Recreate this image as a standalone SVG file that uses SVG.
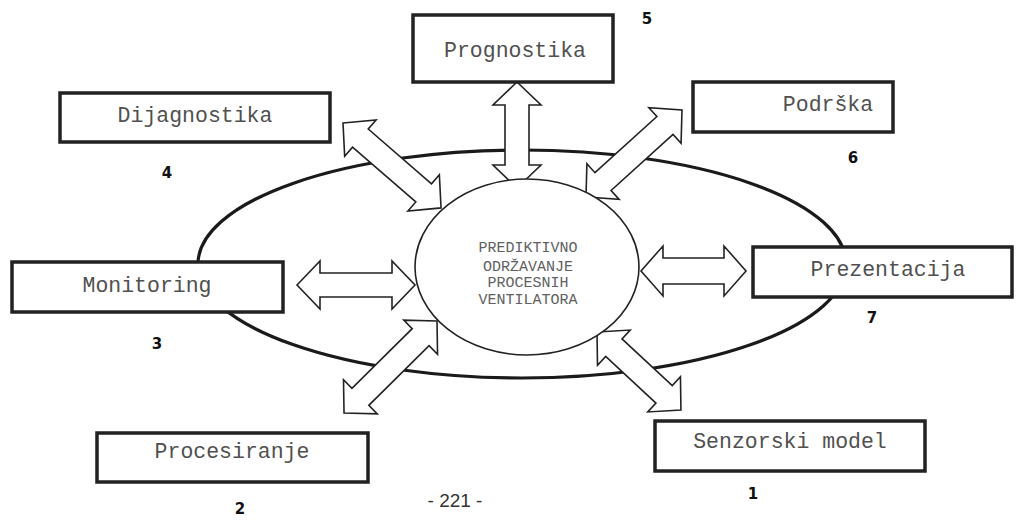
<svg xmlns="http://www.w3.org/2000/svg" width="1019" height="520" viewBox="0 0 1019 520">
<style>
.box{fill:#fff;stroke:#222;stroke-width:3.5}
.lbl{font-family:"Liberation Mono",monospace;font-size:21.5px;fill:#505050;text-anchor:middle}
.num{font-family:"DejaVu Sans",sans-serif;font-weight:bold;font-size:15px;fill:#111;text-anchor:middle}
.arr{fill:#fff;stroke:#222;stroke-width:1.6;stroke-linejoin:miter}
.ctr{font-family:"Liberation Mono",monospace;font-size:15px;fill:#606060;text-anchor:middle}
</style>
<rect width="1019" height="520" fill="#fff"/>
<g id="ring">
<ellipse cx="522" cy="264" rx="324" ry="114" fill="none" stroke="#1a1a1a" stroke-width="3.2"/>
</g>
<g id="connectors">
<polygon class="arr" transform="translate(517,82) rotate(90)" points="0,0 23,-24 23,-12 83,-12 83,-24 106,0 83,24 83,12 23,12 23,24"/>
<polygon class="arr" transform="translate(343,123) rotate(40.9)" points="0,0 23,-24 23,-12 106.7,-12 106.7,-24 129.7,0 106.7,24 106.7,12 23,12 23,24"/>
<polygon class="arr" transform="translate(682,110) rotate(137.8)" points="0,0 23,-24 23,-12 106.6,-12 106.6,-24 129.6,0 106.6,24 106.6,12 23,12 23,24"/>
<polygon class="arr" transform="translate(297,285)" points="0,0 23,-24 23,-12 95,-12 95,-24 118,0 95,24 95,12 23,12 23,24"/>
<polygon class="arr" transform="translate(641,271)" points="0,0 22,-25 22,-13 83,-13 83,-25 105,0 83,25 83,13 22,13 22,25"/>
<polygon class="arr" transform="translate(437,321) rotate(135.3)" points="0,0 23,-24 23,-12 107.8,-12 107.8,-24 130.8,0 107.8,24 107.8,12 23,12 23,24"/>
<polygon class="arr" transform="translate(597,332) rotate(42.9)" points="0,0 23,-24 23,-12 91.6,-12 91.6,-24 114.6,0 91.6,24 91.6,12 23,12 23,24"/>
</g>
<g id="center">
<ellipse cx="527" cy="267" rx="112" ry="88" fill="#fff" stroke="#222" stroke-width="1.6"/>
<text class="ctr" x="528" y="252">PREDIKTIVNO</text>
<text class="ctr" x="528" y="271">ODRŽAVANJE</text>
<text class="ctr" x="528" y="287">PROCESNIH</text>
<text class="ctr" x="528" y="304">VENTILATORA</text>
</g>
<g id="n5">
<rect class="box" x="413" y="15" width="200" height="67"/>
<text class="lbl" x="515" y="57">Prognostika</text>
<text class="num" x="647" y="24">5</text>
</g>
<g id="n4">
<rect class="box" x="60" y="93" width="270" height="49"/>
<text class="lbl" x="195" y="122">Dijagnostika</text>
<text class="num" x="167" y="178">4</text>
</g>
<g id="n6">
<rect class="box" x="693" y="82" width="200" height="50"/>
<text class="lbl" x="828" y="111">Podrška</text>
<text class="num" x="853" y="163">6</text>
</g>
<g id="n3">
<rect class="box" x="12" y="262" width="271" height="50"/>
<text class="lbl" x="147" y="292">Monitoring</text>
<text class="num" x="157" y="349">3</text>
</g>
<g id="n7">
<rect class="box" x="753" y="247" width="259" height="50"/>
<text class="lbl" x="888" y="276">Prezentacija</text>
<text class="num" x="872" y="323">7</text>
</g>
<g id="n2">
<rect class="box" x="97" y="433" width="271" height="49"/>
<text class="lbl" x="232" y="458">Procesiranje</text>
<text class="num" x="240" y="514">2</text>
</g>
<g id="n1">
<rect class="box" x="655" y="421" width="270" height="50"/>
<text class="lbl" x="790" y="448">Senzorski model</text>
<text class="num" x="753" y="499">1</text>
</g>
<text x="455" y="507" font-family="Liberation Sans, sans-serif" font-size="19" fill="#333" text-anchor="middle">- 221 -</text>
</svg>
